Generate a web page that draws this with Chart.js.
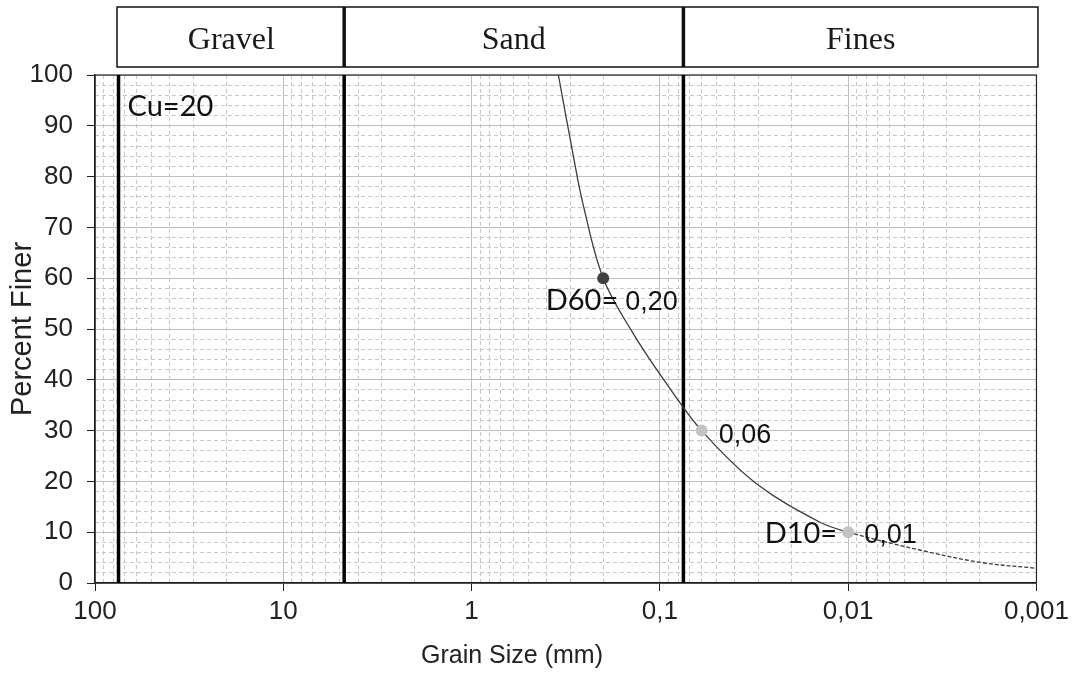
<!DOCTYPE html>
<html>
<head>
<meta charset="utf-8">
<script src="https://cdn.jsdelivr.net/npm/chart.js@4.4.1/dist/chart.umd.min.js"></script>
<style>
  html, body { margin: 0; padding: 0; background: #fff; }
  canvas { display: block; }
</style>
</head>
<body>
<canvas id="c" width="1074" height="688"></canvas>
<script>
// Grain size distribution: percent finer vs. grain size (mm), log scale
const curveSizes   = [0.346, 0.290, 0.256, 0.20, 0.139, 0.0924, 0.06, 0.0308, 0.0142, 0.01];
const curvePercent = [100, 84.6, 74.6, 60, 49.2, 39.3, 30, 19.6, 12.0, 10];
// extrapolated part of the curve below D10 (drawn dashed)
const tailSizes    = [0.00385, 0.00194, 0.001];
const tailPercent  = [6.2, 4.0, 2.9];
// characteristic diameters D60, D30, D10
const keyNames     = ['D60=', '', 'D10='];
const keySizes     = [0.20, 0.06, 0.01];
const keyPercent   = [60, 30, 10];
// soil class boundaries (mm) and class names
const classBounds  = [75, 4.75, 0.075];
const classNames   = ['Gravel', 'Sand', 'Fines'];
// axis ticks and titles
const xTickValues  = [100, 10, 1, 0.1, 0.01, 0.001];
const xTickLabels  = ['100', '10', '1', '0,1', '0,01', '0,001'];
const xMinorSteps  = [2, 3, 4, 5, 6, 7, 8, 9];
const xMinorDecades = [0.001, 0.01, 0.1, 1, 10];
const yTickValues  = [0, 10, 20, 30, 40, 50, 60, 70, 80, 90, 100];
const xTitle = 'Grain Size (mm)';
const yTitle = 'Percent Finer';

const xMinorValues = [];
xMinorDecades.forEach(d => xMinorSteps.forEach(s => xMinorValues.push(+(d * s).toPrecision(3))));

const fmt = v => v.toFixed(2).replace('.', ',');
const cu = Math.round(keySizes[0] / keySizes[2]);
const dashFrom = keySizes[2];

const SANS = "'Liberation Sans', Arial, sans-serif";
const CAL = "Lato, 'Open Sans', sans-serif";
const SERIF = "'Liberation Serif', 'DejaVu Serif', serif";

// border around the plotting area
const frame = {
  id: 'frame',
  beforeDatasetsDraw(chart) {
    const { ctx, chartArea: a } = chart;
    ctx.save();
    ctx.strokeStyle = '#262626';
    ctx.lineWidth = 1.2;
    ctx.strokeRect(a.left, a.top, a.right - a.left, a.bottom - a.top);
    ctx.restore();
  }
};

// class header boxes above the plot and the horizontal axis title
const header = {
  id: 'header',
  afterDraw(chart) {
    const { ctx, chartArea: a, scales: { x } } = chart;
    const top = a.top - 68, bottom = a.top - 8;
    const edges = classBounds.map(v => x.getPixelForValue(v));
    edges.push(a.right + 1.5);
    ctx.save();
    ctx.strokeStyle = '#111';
    ctx.lineWidth = 1.5;
    ctx.strokeRect(edges[0] - 1.5, top, edges[edges.length - 1] - edges[0] + 1.5, bottom - top);
    ctx.lineWidth = 3.5;
    for (let i = 1; i < edges.length - 1; i++) {
      ctx.beginPath();
      ctx.moveTo(edges[i], top);
      ctx.lineTo(edges[i], bottom);
      ctx.stroke();
    }
    ctx.fillStyle = '#1a1a1a';
    ctx.font = '32px ' + SERIF;
    ctx.textAlign = 'center';
    ctx.textBaseline = 'alphabetic';
    classNames.forEach((n, i) => {
      ctx.fillText(n, (edges[i] + edges[i + 1]) / 2, top + 42);
    });
    ctx.fillStyle = '#222';
    ctx.font = '25px ' + SANS;
    ctx.textBaseline = 'middle';
    ctx.fillText(xTitle, chart.width / 2 - 25, a.bottom + 73);
    ctx.restore();
  }
};

// D-value labels and Cu text
const notes = {
  id: 'notes',
  afterDatasetsDraw(chart) {
    const { ctx, chartArea: a, scales: { x, y } } = chart;
    const offs = [
      { nx: 15, vx: 22, by: 32 },
      { nx: 0,  vx: 17, by: 12 },
      { nx: -11, vx: 16, by: 11 }
    ];
    ctx.save();
    ctx.fillStyle = '#111';
    ctx.textBaseline = 'alphabetic';
    keySizes.forEach((s, i) => {
      const px = x.getPixelForValue(s), py = y.getPixelForValue(keyPercent[i]);
      const o = offs[i];
      if (keyNames[i]) {
        ctx.font = '29px ' + CAL;
        ctx.textAlign = 'right';
        ctx.fillText(keyNames[i], px + o.nx, py + o.by);
      }
      ctx.font = '27px ' + SANS;
      ctx.textAlign = 'left';
      ctx.fillText(fmt(s), px + o.vx, py + o.by);
    });
    ctx.font = '29px ' + CAL;
    ctx.textAlign = 'left';
    ctx.fillText('Cu=' + cu, x.getPixelForValue(classBounds[0]) + 9, a.top + 41);
    ctx.restore();
  }
};

const toXY = (xs, ys) => xs.map((v, i) => ({ x: v, y: ys[i] }));

new Chart(document.getElementById('c'), {
  type: 'line',
  data: {
    datasets: [
      {
        data: toXY(keySizes, keyPercent),
        showLine: false,
        pointRadius: 6,
        pointBorderWidth: 0,
        pointBackgroundColor: ['#404040', '#c3c3c3', '#c3c3c3'],
        pointBorderColor: ['#404040', '#c3c3c3', '#c3c3c3']
      },
      {
        data: toXY(curveSizes.concat(tailSizes), curvePercent.concat(tailPercent)),
        borderColor: '#3c3c3c',
        borderWidth: 1.3,
        pointRadius: 0,
        tension: 0.35,
        segment: {
          borderDash: c => (c.p0.parsed.x <= dashFrom ? [4, 2] : undefined)
        }
      },
      ...classBounds.map(b => ({
        data: [{ x: b, y: 0 }, { x: b, y: 100 }],
        borderColor: '#000',
        borderWidth: 3.5,
        pointRadius: 0
      }))
    ]
  },
  options: {
    responsive: false,
    animation: false,
    devicePixelRatio: 1,
    layout: { padding: { top: 75, right: 35, left: 0, bottom: 0 } },
    plugins: { legend: { display: false }, tooltip: { enabled: false } },
    scales: {
      x: {
        type: 'logarithmic',
        position: 'bottom',
        reverse: true,
        min: 0.001,
        max: 100,
        afterBuildTicks: s => { s.ticks = xTickValues.map(v => ({ value: v })); },
        afterFit: s => { s.height = 105; },
        ticks: {
          autoSkip: false,
          maxRotation: 0,
          padding: 5,
          color: '#222',
          font: { family: SANS, size: 26 },
          callback: (v, i) => xTickLabels[i]
        },
        grid: { color: '#c0c0c0', lineWidth: 1, tickColor: '#222', tickLength: 8 },
        border: { display: true, color: '#111', width: 1.3 }
      },
      x2: {
        type: 'logarithmic',
        position: 'top',
        reverse: true,
        min: 0.001,
        max: 100,
        afterBuildTicks: s => { s.ticks = xMinorValues.map(v => ({ value: v })); },
        afterFit: s => { s.height = 0; },
        ticks: { display: false, autoSkip: false },
        grid: { color: '#c8c8c8', lineWidth: 1, drawTicks: false },
        border: { display: false, dash: [4, 3] }
      },
      y: {
        type: 'linear',
        position: 'left',
        min: 0,
        max: 100,
        afterBuildTicks: s => { s.ticks = yTickValues.map(v => ({ value: v })); },
        afterFit: s => { s.width = 95; },
        ticks: {
          padding: 14,
          color: '#222',
          font: { family: SANS, size: 26 }
        },
        grid: { color: '#c0c0c0', lineWidth: 1, tickColor: '#222', tickLength: 8 },
        border: { display: true, color: '#111', width: 1.3 },
        title: {
          display: true,
          text: yTitle,
          color: '#222',
          font: { family: SANS, size: 29 },
          padding: { top: 6, bottom: 0 }
        }
      },
      y2: {
        type: 'linear',
        position: 'right',
        min: 0,
        max: 100,
        afterFit: s => { s.width = 0; },
        ticks: { display: false, stepSize: 2 },
        grid: {
          drawTicks: false,
          lineWidth: 1,
          color: c => (c.tick && c.tick.value % 10 === 0) ? 'rgba(0,0,0,0)' : '#c8c8c8'
        },
        border: { display: false, dash: [4, 3] }
      }
    }
  },
  plugins: [frame, header, notes]
});
</script>
</body>
</html>
